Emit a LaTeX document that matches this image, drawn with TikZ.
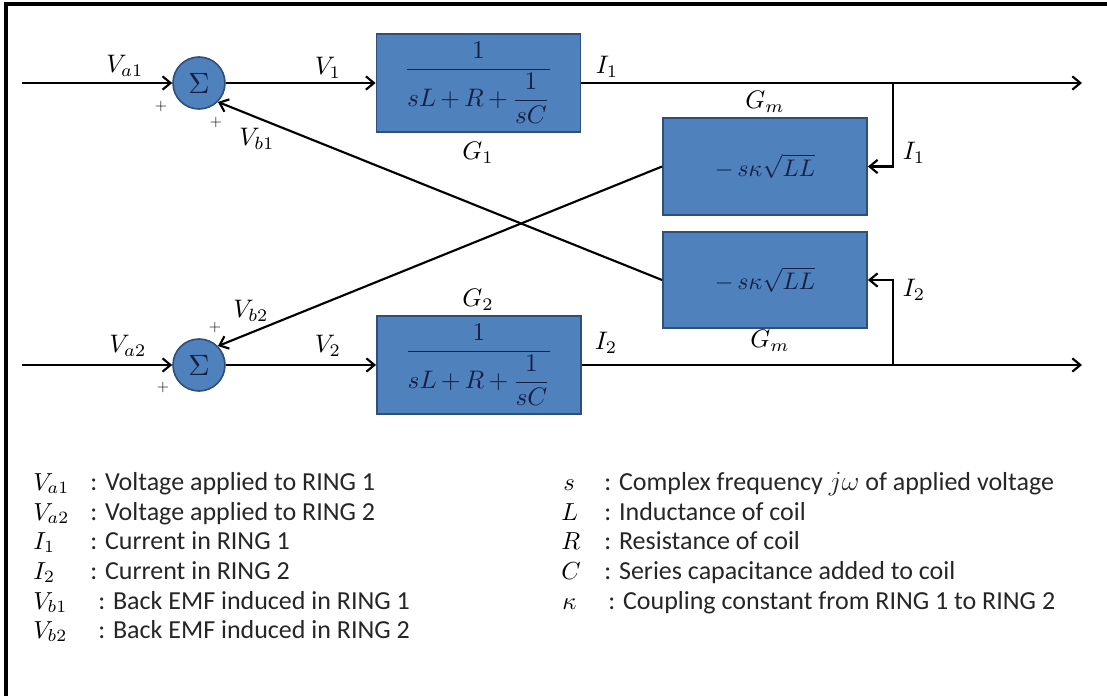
\documentclass[tikz,border=0pt]{standalone}
\usepackage{amsmath}
\usepackage{graphicx}
\usepackage{fontspec}
\setmainfont{Carlito}
\usetikzlibrary{arrows.meta}
\definecolor{blockfill}{HTML}{4F81BD}
\definecolor{blockdraw}{HTML}{2E4F7A}
\definecolor{blocktext}{HTML}{141E46}
\newcommand\mysc[2]{\scalebox{#1}{#2}}
\tikzset{
  blk/.style={draw=blockdraw, fill=blockfill, line width=1.4pt, minimum width=153pt, minimum height=74pt, inner sep=0pt, text=blocktext},
  sumnode/.style={circle, draw=blockdraw, fill=blockfill, line width=1.2pt, minimum size=39pt, inner sep=0pt, text=blocktext},
  wire/.style={line width=1.6pt, draw=black},
  arr/.style={wire, -{Straight Barb[length=6pt, width=10pt, line width=1.6pt]}},
  lbl/.style={inner sep=1pt},
  plus/.style={font=\fontsize{12}{14}\selectfont, inner sep=0pt},
  legsym/.style={anchor=base west, inner sep=0pt},
  legtxt/.style={anchor=base west, font=\fontsize{19.5}{22}\selectfont, inner sep=0pt, text=black!85}
}
\newcommand\LB[1]{\mysc{1.9}{$#1$}}
\newcommand\LS[1]{\mysc{1.85}{$#1$}}
\newcommand\GF{\mysc{1.9}{$\dfrac{1}{sL\,{+}\,R\,{+}\,\dfrac{1}{sC}}$}}
\begin{document}
\begin{tikzpicture}[x=0.75pt, y=-0.75pt]
\useasboundingbox (0,0) rectangle (1107,696);
\fill[white] (0,0) rectangle (1107,696);
% frame
\draw[line width=2.4pt] (6,696) -- (6,4) -- (1107,4);

% nodes
\node[sumnode] (s1) at (199,83) {\mysc{2.2}{$\Sigma$}};
\node[sumnode] (s2) at (199,365) {\mysc{2.2}{$\Sigma$}};
\node[blk] (g1) at (478.5,83) {\GF};
\node[blk] (g2) at (479,365) {\GF};
\node[blk, minimum height=73pt] (gm1) at (765,166.5) {\mysc{1.8}{$-\,s\kappa\sqrt{LL}$}};
\node[blk, minimum height=72pt] (gm2) at (765,280) {\mysc{1.8}{$-\,s\kappa\sqrt{LL}$}};

\coordinate (in1) at (22,83);
\coordinate (in2) at (22,365);
\coordinate (out1) at (1082,83);
\coordinate (out2) at (1082,365);
\coordinate (br1) at (893,83);
\coordinate (br2) at (893,365);

% connectors
\draw[arr] (in1) -- (s1);
\draw[arr] (s1) -- (g1);
\draw[arr] (g1.east) -- (out1);
\draw[arr] (br1) |- (gm1.east);
\draw[arr] (in2) -- (s2);
\draw[arr] (s2) -- (g2);
\draw[arr] (g2.east) -- (out2);
\draw[arr] (br2) |- (gm2.east);
\draw[arr] (gm1.west) -- (s2.45);
\draw[arr] (gm2.west) -- (s1.-45);

% labels
\node[lbl] (la1) at (125,66) {\LB{V_{a1}}};
\node[plus] (p1) at (161,106) {$+$};
\node[plus] (p2) at (216,122) {$+$};
\node[lbl] (lb1) at (257,139) {\LB{V_{b1}}};
\node[lbl] (lv1) at (328,68) {\LB{V_1}};
\node[lbl] (li1) at (607,67) {\LB{I_1}};
\node[lbl] (lg1) at (478,153) {\LB{G_1}};
\node[lbl] (lgm1) at (765,102) {\LB{G_m}};
\node[lbl] (li1b) at (914,153) {\LB{I_1}};
\node[lbl] (li2b) at (914,290) {\LB{I_2}};
\node[lbl] (lgm2) at (770,341) {\LB{G_m}};
\node[lbl] (lg2) at (478,300) {\LB{G_2}};
\node[lbl] (lb2) at (251,311) {\LB{V_{b2}}};
\node[plus] (p3) at (215,327) {$+$};
\node[lbl] (la2) at (128,346) {\LB{V_{a2}}};
\node[plus] (p4) at (163,387) {$+$};
\node[lbl] (lv2) at (328,346) {\LB{V_2}};
\node[lbl] (li2) at (606,343) {\LB{I_2}};

% legend left
\node[legsym] (k1) at (33,490) {\LS{V_{a1}}};
\node[legtxt] (t1) at (90,490) {: Voltage applied to RING 1};
\node[legsym] (k2) at (33,520) {\LS{V_{a2}}};
\node[legtxt] (t2) at (90,520) {: Voltage applied to RING 2};
\node[legsym] (k3) at (33,549) {\LS{I_1}};
\node[legtxt] (t3) at (90,549) {: Current in RING 1};
\node[legsym] (k4) at (33,579) {\LS{I_2}};
\node[legtxt] (t4) at (90,579) {: Current in RING 2};
\node[legsym] (k5) at (33,609) {\LS{V_{b1}}};
\node[legtxt] (t5) at (98,609) {: Back EMF induced in RING 1};
\node[legsym] (k6) at (33,638) {\LS{V_{b2}}};
\node[legtxt] (t6) at (98,638) {: Back EMF induced in RING 2};

% legend right
\node[legsym] (r1) at (563,490) {\LS{s}};
\node[legtxt] (u1) at (604,490) {: Complex frequency $j\omega$ of applied voltage};
\node[legsym] (r2) at (561,520) {\LS{L}};
\node[legtxt] (u2) at (604,520) {: Inductance of coil};
\node[legsym] (r3) at (561,549) {\LS{R}};
\node[legtxt] (u3) at (604,549) {: Resistance of coil};
\node[legsym] (r4) at (561,579) {\LS{C}};
\node[legtxt] (u4) at (604,579) {: Series capacitance added to coil};
\node[legsym] (r5) at (562,609) {\LS{\kappa}};
\node[legtxt] (u5) at (608,609) {: Coupling constant from RING 1 to RING 2};
\end{tikzpicture}
\end{document}
